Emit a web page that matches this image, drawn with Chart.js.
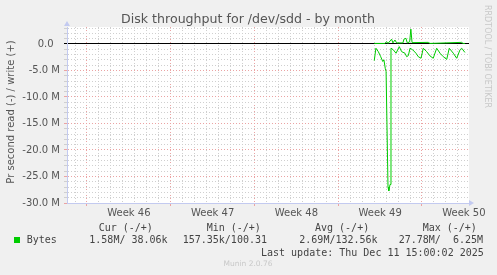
<!DOCTYPE html>
<html>
<head>
<meta charset="utf-8">
<script src="https://cdn.jsdelivr.net/npm/chart.js@4.4.1/dist/chart.umd.min.js"></script>
<style>
  html, body { margin: 0; padding: 0; background: #f0f0f0; }
  #wrap { width: 497px; height: 275px; }
</style>
</head>
<body>
<div id="wrap"><canvas id="diskChart" width="497" height="275"></canvas></div>
<script>
// x = days counted from the start of week 46, y = MB/s (read negative, write positive)
const xMin = -1.67;
const xMax = 31.93;
const yMin = -30;
const yMax = 3.2;
const weekLabels = ['Week 46', 'Week 47', 'Week 48', 'Week 49', 'Week 50'];
const weekStarts = [0, 7, 14, 21, 28];

const readDays = [24.01, 24.15, 24.35, 24.55, 24.72, 24.82, 24.93, 25.0, 25.16, 25.23, 25.33, 25.41,
  25.60, 25.83, 26.10, 26.30, 26.58, 26.72, 26.86, 27.0, 27.22, 27.50, 27.69, 27.92, 28.11, 28.39,
  28.67, 28.94, 29.23, 29.51, 29.78, 30.07, 30.28, 30.62, 30.90, 31.18, 31.32, 31.59];
const readValues = [-3.15, -0.8, -1.45, -2.4, -3.3, -3.0, -4.6, -5.2, -27.0, -27.7, -26.5, -0.8,
  -1.1, -1.75, -0.5, -1.45, -1.75, -2.4, -2.2, -0.8, -1.1, -1.75, -2.4, -2.7, -0.8, -1.45,
  -2.25, -2.7, -0.8, -1.75, -2.4, -2.9, -0.8, -1.75, -2.7, -1.1, -0.8, -1.6];

const writeDays = [24.01, 24.90, 25.04, 25.16, 25.46, 25.57, 25.74, 25.88, 26.41, 26.49, 26.66, 26.77,
  26.97, 27.07, 27.17, 28.53, 28.67, 31.32, 31.43, 31.59];
const writeValues = [0.1, 0.1, 0.45, 0.1, 0.9, 0.2, 0.75, 0.2, 0.2, 0.9, 1.07, 0.2,
  0.4, 2.8, 0.25, 0.3, 0.1, 0.3, 0.1, 0.1];

const legendHeads = ['Cur (-/+)', 'Min (-/+)', 'Avg (-/+)', 'Max (-/+)'];
const legendValues = ['1.58M/ 38.06k', '157.35k/100.31', '2.69M/132.56k', '27.78M/  6.25M'];

const GRID = '#cfcfcf';
const MGRID = '#eba3a3';
const AXIS = '#c3caf0';
const NONE = 'rgba(0,0,0,0)';
const SANS = "'DejaVu Sans', sans-serif";
const MONO = "'DejaVu Sans Mono', monospace";

function yGridColor(v) {
  const r = Math.abs(Math.round(v));
  if (r === 0) return '#000';
  return r % 5 === 0 ? MGRID : GRID;
}
function xGridColor(v) {
  if (!Number.isInteger(v)) return NONE;
  return v % 7 === 0 ? MGRID : GRID;
}

const munin = {
  id: 'munin',
  beforeDraw(chart) {
    const { ctx, chartArea: a } = chart;
    ctx.save();
    ctx.fillStyle = '#f0f0f0';
    ctx.fillRect(0, 0, chart.width, chart.height);
    ctx.fillStyle = '#fff';
    ctx.fillRect(a.left, a.top, a.right - a.left, a.bottom - a.top);
    ctx.restore();
  },
  afterDraw(chart) {
    const { ctx, chartArea: a } = chart;
    ctx.save();
    // axis arrows
    ctx.fillStyle = AXIS;
    ctx.beginPath();
    ctx.moveTo(a.left, a.top - 6);
    ctx.lineTo(a.left - 3, a.top - 1);
    ctx.lineTo(a.left + 3, a.top - 1);
    ctx.fill();
    ctx.beginPath();
    ctx.moveTo(a.right + 5, a.bottom);
    ctx.lineTo(a.right, a.bottom - 3);
    ctx.lineTo(a.right, a.bottom + 3);
    ctx.fill();

    // title
    ctx.fillStyle = '#555';
    ctx.font = '12.6px ' + SANS;
    ctx.textAlign = 'center';
    ctx.textBaseline = 'alphabetic';
    ctx.fillText('Disk throughput for /dev/sdd - by month', 248, 23);

    // vertical axis title
    ctx.save();
    ctx.translate(13.5, 112);
    ctx.rotate(-Math.PI / 2);
    ctx.font = '10px ' + SANS;
    ctx.fillText('Pr second read (-) / write (+)', 0, 0);
    ctx.restore();

    // rrdtool watermark
    ctx.save();
    ctx.translate(484.5, 5);
    ctx.rotate(Math.PI / 2);
    ctx.fillStyle = '#c8c8c8';
    ctx.font = '8px ' + SANS;
    ctx.textAlign = 'left';
    ctx.fillText('RRDTOOL / TOBI OETIKER', 0, 0);
    ctx.restore();

    // legend table
    ctx.textAlign = 'left';
    ctx.fillStyle = '#444';
    ctx.font = '10px ' + MONO;
    const headX = [98.7, 206.7, 315, 422.7];
    const valX = [89.3, 182.7, 299.3, 398.7];
    legendHeads.forEach((t, i) => ctx.fillText(t, headX[i], 230.5));
    ctx.fillText('Bytes', 26.7, 243);
    legendValues.forEach((t, i) => ctx.fillText(t, valX[i], 243));
    ctx.fillText('Last update: Thu Dec 11 15:00:02 2025', 261, 255.5);
    ctx.fillStyle = '#00cc00';
    ctx.fillRect(14, 237, 6, 6);

    ctx.fillStyle = '#c8c8c8';
    ctx.font = '7.5px ' + SANS;
    ctx.textAlign = 'center';
    ctx.fillText('Munin 2.0.76', 248, 266);
    ctx.restore();
  }
};

new Chart(document.getElementById('diskChart'), {
  type: 'line',
  data: {
    datasets: [{
      label: 'read',
      data: readDays.map((d, i) => ({ x: d, y: readValues[i] })),
      borderColor: '#00cc00',
      borderWidth: 1,
      pointRadius: 0,
      tension: 0,
      fill: false
    }, {
      label: 'write',
      data: writeDays.map((d, i) => ({ x: d, y: writeValues[i] })),
      borderColor: '#00cc00',
      borderWidth: 1,
      pointRadius: 0,
      tension: 0,
      fill: false
    }]
  },
  options: {
    responsive: false,
    animation: false,
    layout: { padding: { left: 0, top: 27, right: 28, bottom: 0 } },
    plugins: { legend: { display: false }, tooltip: { enabled: false } },
    scales: {
      x: {
        type: 'linear',
        min: xMin,
        max: xMax,
        afterBuildTicks: s => {
          const t = [];
          for (let d = -1; d <= 31; d++) t.push({ value: d });
          weekStarts.forEach(w => t.push({ value: w + 3.5 }));
          t.sort((p, q) => p.value - q.value);
          s.ticks = t;
        },
        afterFit: s => { s.height = 72; },
        ticks: {
          autoSkip: false,
          maxRotation: 0,
          padding: 1,
          color: '#555',
          font: { family: SANS, size: 10 },
          callback: v => {
            const i = weekStarts.indexOf(v - 3.5);
            return i >= 0 ? weekLabels[i] : '';
          }
        },
        grid: {
          color: c => c.tick ? xGridColor(c.tick.value) : GRID,
          tickColor: c => (c.tick && Number.isInteger(c.tick.value) && c.tick.value % 7 === 0) ? MGRID : NONE,
          tickLength: 3,
          lineWidth: 1
        },
        border: {
          color: AXIS,
          width: 1,
          dash: c => c.tick ? [1, 2] : []
        }
      },
      y: {
        min: yMin,
        max: yMax,
        afterFit: s => { s.width = 67; },
        ticks: {
          stepSize: 1,
          includeBounds: false,
          autoSkip: false,
          padding: 4,
          color: '#555',
          font: { family: SANS, size: 10 },
          callback: v => {
            const r = Math.round(v);
            if (r === 0) return '0.0  ';
            return r % 5 === 0 ? r.toFixed(1) + ' M' : '';
          }
        },
        grid: {
          color: c => c.tick ? yGridColor(c.tick.value) : GRID,
          tickColor: c => c.tick ? yGridColor(c.tick.value) : GRID,
          tickLength: 3,
          lineWidth: 1
        },
        border: {
          color: AXIS,
          width: 1,
          dash: c => (c.tick && Math.round(c.tick.value) !== 0) ? [1, 2] : []
        }
      }
    }
  },
  plugins: [munin]
});
</script>
</body>
</html>
